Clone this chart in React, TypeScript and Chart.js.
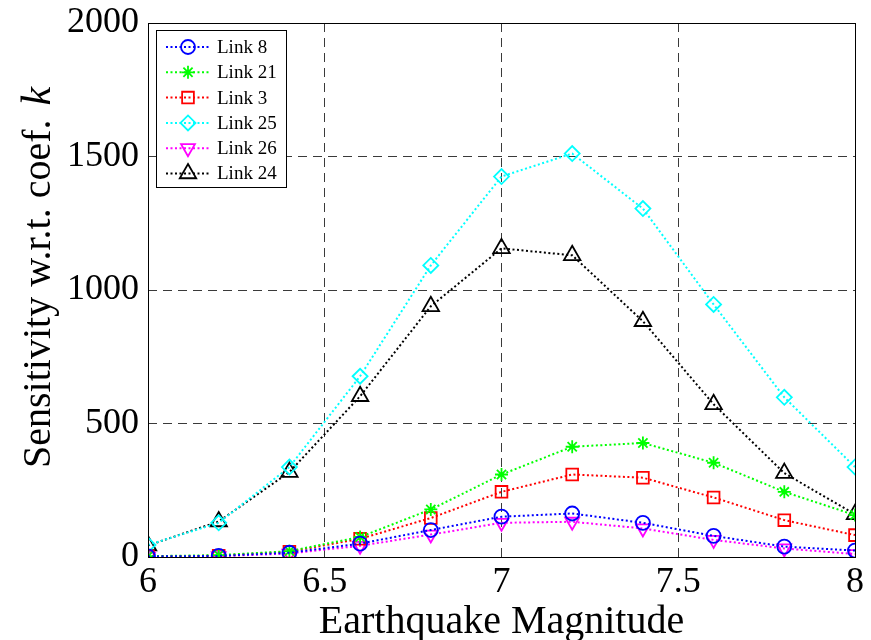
import React, { useEffect, useRef } from "react";
import { Chart, registerables } from "chart.js";
import { drawPoint } from "chart.js/helpers";

Chart.register(...registerables);

const magnitudes = [6, 6.2, 6.4, 6.6, 6.8, 7.0, 7.2, 7.4, 7.6, 7.8, 8.0];
const link8 = [2, 4, 16, 50, 101, 151, 163, 128, 79, 39, 24];
const link21 = [3, 7, 22, 75, 178, 309, 413, 427, 353, 244, 157];
const link3 = [2, 5, 20, 68, 146, 244, 309, 297, 223, 138, 82];
const link25 = [45, 128, 337, 677, 1092, 1425, 1511, 1305, 946, 598, 337];
const link26 = [1, 3, 13, 42, 84, 128, 132, 107, 64, 32, 11];
const link24 = [43, 133, 318, 602, 939, 1156, 1130, 883, 572, 314, 160];

const seriesNames = ["Link 8", "Link 21", "Link 3", "Link 25", "Link 26", "Link 24"];
const seriesValues = [link8, link21, link3, link25, link26, link24];
const seriesColors = ["#0000ff", "#00ff00", "#ff0000", "#00ffff", "#ff00ff", "#000000"];
const seriesStyles = ["circle", "star", "rect", "rectRot", "triangle", "triangle"];
const seriesRotation = [0, 0, 0, 0, 180, 0];
const seriesRadius = [7, 6.5, 8.3, 7.5, 8, 9.5];

const yTicks = [0, 500, 1000, 1500, 2000];
const xTicks = [6, 6.5, 7, 7.5, 8];

const FONT = "'Liberation Serif', 'Times New Roman', serif";

const decorPlugin = {
  id: "decor",
  afterDraw(chart: any) {
    const ctx = chart.ctx;
    const a = chart.chartArea;
    ctx.save();
    // frame
    ctx.setLineDash([]);
    ctx.strokeStyle = "#000";
    ctx.lineWidth = 1;
    ctx.strokeRect(Math.round(a.left) + 0.5, Math.round(a.top) + 0.5, Math.round(a.right - a.left), Math.round(a.bottom - a.top));

    // legend
    const bx = 156.5, by = 30.5, bw = 130, bh = 157;
    ctx.fillStyle = "#fff";
    ctx.fillRect(bx, by, bw, bh);
    ctx.strokeRect(bx, by, bw, bh);
    const rowY0 = 47, rowStep = 25.3;
    ctx.font = `19px ${FONT}`;
    ctx.textBaseline = "middle";
    ctx.textAlign = "left";
    for (let i = 0; i < seriesNames.length; i++) {
      const y = rowY0 + i * rowStep;
      ctx.strokeStyle = seriesColors[i];
      ctx.lineWidth = 2;
      ctx.setLineDash([2, 2.5]);
      ctx.beginPath();
      ctx.moveTo(166, y);
      ctx.lineTo(210, y);
      ctx.stroke();
      ctx.setLineDash([]);
      ctx.fillStyle = "rgba(0,0,0,0)";
      ctx.lineWidth = 1.8;
      drawPoint(ctx, {
        pointStyle: seriesStyles[i],
        rotation: seriesRotation[i],
        radius: seriesRadius[i],
        borderWidth: 1.8,
      } as any, 188, y);
      ctx.fillStyle = "#000";
      ctx.fillText(seriesNames[i], 217, y + 1);
    }

    // x title
    ctx.fillStyle = "#000";
    ctx.font = `40px ${FONT}`;
    ctx.textAlign = "center";
    ctx.textBaseline = "alphabetic";
    ctx.fillText("Earthquake Magnitude", (a.left + a.right) / 2, 633);

    // y title
    ctx.translate(50, 468);
    ctx.rotate(-Math.PI / 2);
    ctx.textAlign = "left";
    const main = "Sensitivity w.r.t. coef. ";
    ctx.font = `40px ${FONT}`;
    ctx.fillText(main, 0, 0);
    const w = ctx.measureText(main).width;
    ctx.font = `italic 42px ${FONT}`;
    ctx.fillText("k", w + 4, 0);
    ctx.restore();
  },
};

export default function App() {
  const ref = useRef<HTMLCanvasElement | null>(null);
  useEffect(() => {
    document.body.style.margin = "0";
    const canvas = ref.current!;
    const chart = new Chart(canvas, {
      type: "line",
      data: {
        datasets: seriesNames.map((name, i) => ({
          label: name,
          data: magnitudes.map((m, j) => ({ x: m, y: seriesValues[i][j] })),
          borderColor: seriesColors[i],
          backgroundColor: "rgba(0,0,0,0)",
          borderWidth: 2,
          borderDash: [2, 2.5],
          pointStyle: seriesStyles[i] as any,
          pointRotation: seriesRotation[i],
          pointRadius: seriesRadius[i],
          pointBorderWidth: 1.8,
          pointBorderColor: seriesColors[i],
          pointBackgroundColor: "rgba(0,0,0,0)",
          fill: false,
          tension: 0,
        })),
      },
      options: {
        animation: false,
        responsive: false,
        layout: { padding: { left: 0, top: 23, right: 16, bottom: 0 } },
        plugins: { legend: { display: false }, tooltip: { enabled: false }, title: { display: false } },
        scales: {
          x: {
            type: "linear",
            min: 6,
            max: 8,
            afterFit: (s: any) => { s.height = 83; s.paddingLeft = 0; s.paddingRight = 0; },
            afterBuildTicks: (s: any) => { s.ticks = xTicks.map((v) => ({ value: v })); },
            ticks: {
              color: "#000",
              font: { family: FONT, size: 36 },
              padding: 4,
              maxRotation: 0,
              autoSkip: false,
              callback: (v: any) => String(v),
            },
            grid: { color: "#3a3a3a", lineWidth: 1, drawTicks: false },
            border: { display: false, dash: [9, 6] },
          },
          y: {
            min: 0,
            max: 2000,
            afterFit: (s: any) => { s.width = 148; s.paddingTop = 0; s.paddingBottom = 0; },
            afterBuildTicks: (s: any) => { s.ticks = yTicks.map((v) => ({ value: v })); },
            ticks: {
              color: "#000",
              font: { family: FONT, size: 36 },
              padding: 9,
              autoSkip: false,
              callback: (v: any) => String(v),
            },
            grid: { color: "#3a3a3a", lineWidth: 1, drawTicks: false },
            border: { display: false, dash: [9, 6] },
          },
        },
      },
      plugins: [decorPlugin],
    });
    return () => chart.destroy();
  }, []);
  return <canvas ref={ref} width={871} height={640} style={{ display: "block" }} />;
}
